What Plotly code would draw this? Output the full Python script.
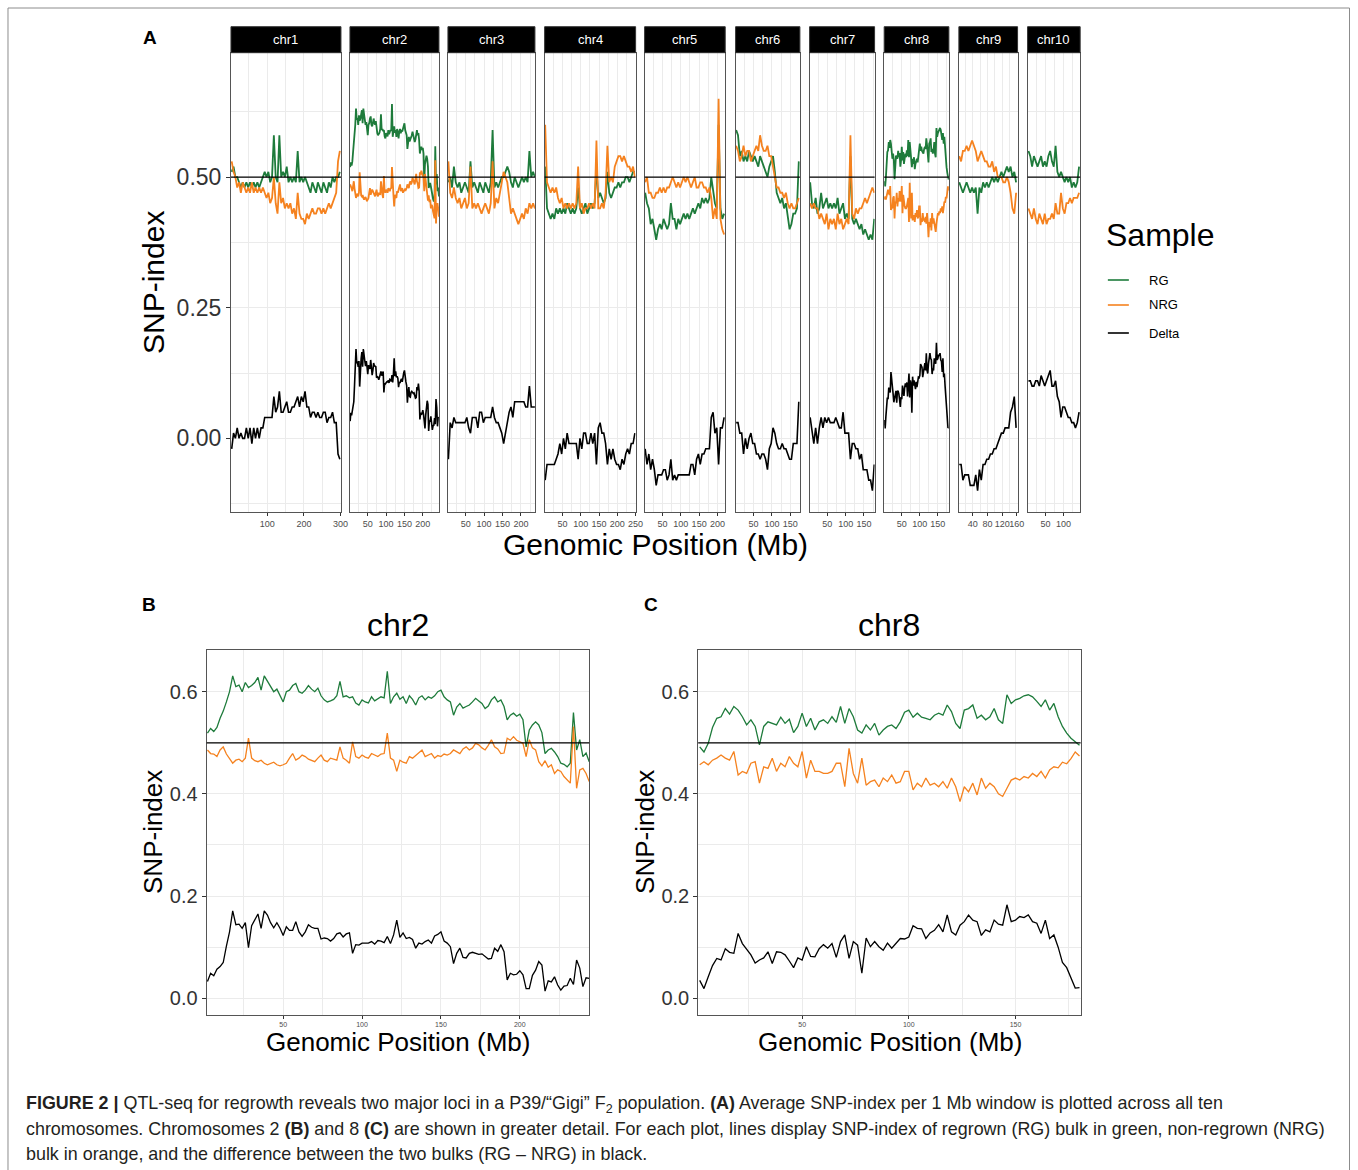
import plotly.graph_objects as go

W, H = 1358, 1170
KX = 1.0058  # the page is photographed slightly narrower than laid out; compensate horizontally


def px(x):
    return min(x * KX, W - 0.5) / W


def py(y):
    return 1 - y / H


# ---------------- data ----------------
CHROMS = ["chr1", "chr2", "chr3", "chr4", "chr5", "chr6", "chr7", "chr8", "chr9", "chr10"]
# window centre of the first point (Mb) and spacing of the windows (Mb)
WIN_START = [3, 2, 3, 3, 3, 3, 3, 2, 3, 3]
WIN_STEP = [5, 2, 5, 5, 5, 5, 5, 2, 5, 5]

chr1_rg = [.51, .52, .50, .50, .49, .48, .49, .48, .49, .48,
           .49, .48, .49, .48, .49, .48, .49, .50, .51, .50,
           .51, .49, .50, .58, .50, .49, .58, .50, .51, .50,
           .52, .49, .50, .49, .50, .49, .55, .49, .50, .49,
           .50, .49, .48, .47, .49, .48, .47, .49, .48, .47,
           .49, .48, .47, .49, .48, .50, .49, .50, .50, .51]
chr1_nrg = [.53, .51, .50, .48, .49, .47, .49, .48, .47, .48,
            .47, .49, .47, .48, .47, .48, .47, .48, .47, .46,
            .47, .45, .46, .50, .45, .43, .49, .45, .46, .44,
            .45, .44, .45, .43, .44, .42, .47, .43, .42, .42,
            .41, .43, .42, .43, .44, .43, .43, .44, .44, .43,
            .44, .43, .44, .45, .44, .45, .46, .47, .53, .55]

chr2_rg = [.519, .528, .522, .530, .548, .562, .580, .600, .631, .610,
           .613, .600, .618, .608, .612, .618, .628, .603, .631, .620,
           .608, .600, .605, .592, .580, .600, .603, .612, .616, .600,
           .597, .603, .612, .605, .600, .607, .592, .584, .580, .582,
           .585, .592, .620, .590, .592, .588, .590, .578, .574, .584,
           .580, .578, .590, .582, .586, .590, .588, .640, .577, .590,
           .597, .585, .590, .577, .592, .585, .574, .588, .592, .584,
           .590, .587, .592, .600, .603, .590, .584, .580, .554, .570,
           .577, .568, .571, .574, .580, .587, .582, .577, .567, .572,
           .584, .590, .580, .584, .571, .545, .554, .558, .552, .556,
           .545, .492, .525, .535, .541, .535, .520, .479, .486, .489,
           .482, .473, .460, .458, .453, .460, .559, .486, .506, .473,
           .480, .463]
chr2_nrg = [.486, .479, .478, .473, .486, .492, .478, .470, .460, .466,
            .468, .463, .470, .509, .470, .465, .463, .466, .460, .457,
            .460, .462, .457, .455, .457, .460, .470, .479, .466, .470,
            .476, .473, .468, .466, .463, .470, .476, .466, .463, .470,
            .468, .466, .492, .470, .466, .460, .502, .473, .470, .476,
            .472, .470, .479, .476, .473, .478, .479, .519, .470, .466,
            .444, .466, .462, .460, .473, .470, .476, .480, .486, .473,
            .476, .479, .470, .475, .473, .478, .476, .479, .486, .482,
            .479, .488, .492, .486, .490, .499, .496, .490, .486, .495,
            .506, .492, .488, .479, .480, .509, .505, .512, .505, .502,
            .499, .473, .506, .490, .486, .463, .455, .465, .452, .457,
            .440, .447, .444, .434, .428, .421, .532, .411, .447, .450,
            .440, .424]

chr3_rg = [.49, .50, .48, .52, .49, .48, .49, .47, .48, .49,
           .48, .47, .53, .48, .49, .48, .47, .49, .48, .47,
           .49, .48, .47, .49, .59, .48, .49, .48, .49, .50,
           .50, .51, .52, .51, .49, .48, .50, .49, .48, .49,
           .50, .49, .50, .49, .55, .50, .51, .50]
chr3_nrg = [.53, .47, .46, .48, .46, .45, .46, .44, .45, .46,
            .44, .45, .52, .44, .45, .44, .45, .44, .43, .44,
            .45, .44, .43, .45, .53, .44, .46, .45, .47, .49,
            .51, .50, .49, .46, .43, .44, .43, .42, .41, .42,
            .43, .42, .44, .43, .45, .44, .45, .44]

chr4_rg = [.52, .44, .43, .42, .43, .42, .44, .43, .44, .43,
           .44, .43, .45, .44, .43, .44, .43, .44, .48, .44,
           .43, .44, .45, .43, .44, .45, .44, .45, .52, .46,
           .47, .46, .45, .46, .51, .47, .46, .47, .48, .48,
           .49, .48, .49, .49, .50, .50, .49, .50, .51, .51]
chr4_nrg = [.60, .49, .48, .47, .48, .47, .48, .46, .45, .46,
            .44, .45, .44, .45, .44, .45, .44, .45, .52, .44,
            .45, .43, .44, .44, .45, .44, .45, .44, .57, .44,
            .44, .45, .44, .47, .56, .49, .50, .49, .52, .53,
            .54, .54, .53, .54, .53, .52, .52, .51, .52, .50]

chr5_rg = [.47, .45, .44, .41, .42, .40, .38, .40, .41, .40,
           .42, .41, .40, .41, .45, .42, .42, .40, .42, .41,
           .42, .43, .42, .43, .42, .43, .44, .43, .44, .45,
           .44, .46, .45, .46, .45, .46, .50, .47, .45, .44,
           .60, .44, .42, .43]
chr5_nrg = [.49, .50, .47, .47, .46, .46, .47, .47, .48, .47,
            .48, .47, .48, .48, .49, .50, .49, .48, .49, .48,
            .49, .50, .49, .50, .49, .48, .49, .50, .48, .48,
            .49, .49, .48, .48, .47, .48, .46, .42, .44, .42,
            .65, .42, .40, .39]

chr6_rg = [.59, .58, .54, .55, .53, .54, .53, .55, .54, .53,
           .54, .53, .52, .54, .53, .52, .51, .50, .52, .53,
           .54, .51, .47, .46, .45, .46, .44, .45, .42, .40,
           .41, .43, .43, .44, .53]
chr6_nrg = [.56, .55, .53, .54, .56, .54, .55, .55, .53, .54,
            .55, .56, .55, .58, .56, .55, .55, .56, .54, .54,
            .52, .50, .48, .48, .47, .47, .46, .47, .45, .44,
            .45, .44, .44, .45, .46]

chr7_rg = [.49, .45, .44, .46, .43, .44, .47, .44, .45, .46,
           .44, .45, .44, .45, .44, .46, .43, .44, .45, .42,
           .43, .42, .54, .42, .41, .42, .41, .40, .41, .39,
           .40, .39, .38, .39, .38, .42]
chr7_nrg = [.45, .44, .45, .44, .44, .42, .43, .42, .41, .43,
            .40, .42, .41, .42, .40, .43, .41, .42, .40, .41,
            .42, .41, .58, .43, .42, .44, .43, .44, .44, .45,
            .46, .45, .46, .47, .48, .47]

chr8_rg = [.492, .482, .499, .530, .548, .551, .567, .556, .571, .564,
           .551, .535, .545, .532, .496, .532, .541, .538, .535, .550,
           .538, .546, .520, .532, .558, .532, .548, .525, .541, .545,
           .538, .551, .540, .571, .538, .567, .551, .525, .519, .535,
           .525, .538, .515, .525, .532, .535, .528, .541, .560, .564,
           .550, .558, .550, .548, .545, .554, .558, .554, .574, .561,
           .538, .528, .564, .567, .574, .548, .554, .545, .551, .567,
           .545, .538, .594, .577, .584, .587, .592, .594, .590, .581,
           .571, .584, .564, .577, .551, .532, .519, .509, .502, .495]
chr8_nrg = [.457, .463, .457, .466, .470, .476, .470, .466, .483, .437,
            .444, .440, .460, .463, .421, .453, .450, .470, .444, .460,
            .453, .473, .460, .453, .483, .431, .466, .444, .444, .440,
            .440, .444, .460, .460, .414, .489, .440, .421, .470, .417,
            .424, .427, .414, .431, .424, .437, .421, .424, .444, .444,
            .408, .421, .414, .431, .417, .421, .414, .424, .411, .431,
            .414, .385, .414, .404, .421, .398, .431, .411, .421, .414,
            .400, .395, .411, .427, .431, .427, .434, .431, .440, .434,
            .444, .431, .447, .453, .451, .462, .459, .469, .482, .474]

chr9_rg = [.49, .48, .47, .48, .49, .48, .47, .48, .47, .48,
           .43, .48, .47, .49, .48, .49, .48, .49, .50, .49,
           .50, .49, .50, .51, .50, .51, .52, .51, .52, .50,
           .51, .49]
chr9_nrg = [.54, .53, .55, .55, .56, .55, .56, .57, .56, .55,
            .53, .54, .55, .54, .53, .53, .52, .52, .53, .51,
            .52, .50, .50, .50, .49, .49, .50, .49, .47, .44,
            .43, .47]

chr10_rg = [.55, .54, .52, .54, .53, .52, .53, .54, .52, .53,
            .52, .54, .55, .53, .52, .56, .51, .50, .51, .50,
            .49, .50, .49, .50, .48, .49, .48, .49, .52]
chr10_nrg = [.44, .43, .42, .44, .42, .41, .43, .42, .41, .43,
             .41, .42, .42, .43, .42, .45, .43, .43, .47, .44,
             .43, .45, .45, .46, .45, .46, .46, .46, .47]

RG = [chr1_rg, chr2_rg, chr3_rg, chr4_rg, chr5_rg, chr6_rg, chr7_rg, chr8_rg, chr9_rg, chr10_rg]
NRG = [chr1_nrg, chr2_nrg, chr3_nrg, chr4_nrg, chr5_nrg, chr6_nrg, chr7_nrg, chr8_nrg, chr9_nrg, chr10_nrg]

SAMPLES = ["RG", "NRG", "Delta"]
COLORS = {"RG": "#1E7B3B", "NRG": "#F5821F", "Delta": "#000000"}

# x-axis ticks per chromosome (Mb)
MAJOR_TICKS = [[100, 200, 300], [50, 100, 150, 200], [50, 100, 150, 200], [50, 100, 150, 200, 250],
               [50, 100, 150, 200], [50, 100, 150], [50, 100, 150], [50, 100, 150],
               [40, 80, 120, 160], [50, 100]]
MINOR_TICKS = [[50, 150, 250], [25, 75, 125, 175, 225], [25, 75, 125, 175, 225],
               [25, 75, 125, 175, 225], [25, 75, 125, 175], [25, 75, 125, 175],
               [25, 75, 125, 175], [25, 75, 125, 175], [20, 60, 100, 140], [25, 75, 125]]

# ---------------- layout geometry (pixels) ----------------
FACET_L = [231, 350, 448, 544.7, 644.7, 735.7, 809.7, 884.3, 959, 1027.7]
FACET_R = [341, 439, 535, 635.7, 725.3, 800, 874.7, 949, 1017.7, 1080.3]
XRANGE = [[1, 301], [1.5, 244], [1.8, 238], [1.5, 250], [1.5, 221], [1.5, 176],
          [1.5, 179], [1.3, 180.5], [2, 162], [0.5, 146]]
A_TOP, A_BOT = 52.7, 511.7
STRIP_TOP = 26.7
BC_TOP, BC_BOT = 650, 1015
B_L, B_R = 206.7, 589.3
C_L, C_R = 698.3, 1080.7

GRID = "#EBEBEB"
BORDER = "#555555"
FONT = "Liberation Sans, Arial, Helvetica, sans-serif"


def ax_name(kind, n):
    return kind if n == 1 else f"{kind}{n}"


def ref(kind, n):
    return kind[0] if n == 1 else f"{kind[0]}{n}"


fig = go.Figure()
layout = dict(
    width=W, height=H, margin=dict(l=0, r=0, t=0, b=0),
    paper_bgcolor="white", plot_bgcolor="white", showlegend=False,
    font=dict(family=FONT, color="#333333"),
)


def positions(i, n):
    return [WIN_START[i] + WIN_STEP[i] * k for k in range(n)]


def add_series(i, axis_n, widths):
    rg, nrg = RG[i], NRG[i]
    assert len(rg) == len(nrg)
    x = positions(i, len(rg))
    delta = [round(a - b, 4) for a, b in zip(rg, nrg)]
    vals = {"RG": rg, "NRG": nrg, "Delta": delta}
    for s, w in zip(SAMPLES, widths):
        fig.add_trace(go.Scatter(
            x=x, y=vals[s], mode="lines", name=s,
            line=dict(color=COLORS[s], width=w),
            xaxis=ref("x", axis_n), yaxis=ref("y", axis_n),
            hoverinfo="skip",
        ))


def xaxis_dict(dom, rng, major, minor, anchor, size):
    return dict(
        domain=dom, range=rng, anchor=anchor,
        tickmode="array", tickvals=major, ticktext=[str(v) for v in major], tickangle=0,
        showgrid=True, gridcolor=GRID, gridwidth=1.1,
        minor=dict(tickmode="array", tickvals=minor, showgrid=True, gridcolor=GRID, gridwidth=0.6),
        showline=True, mirror=True, linecolor=BORDER, linewidth=1,
        ticks="outside", ticklen=3, tickwidth=1, tickcolor="#333333",
        tickfont=dict(size=size, color="#4D4D4D", family=FONT),
        zeroline=False, fixedrange=True,
    )


def yaxis_dict(dom, rng, major, labels, minor, anchor, show, size):
    d = dict(
        domain=dom, range=rng, anchor=anchor,
        tickmode="array", tickvals=major, ticktext=labels,
        showgrid=True, gridcolor=GRID, gridwidth=1.1,
        minor=dict(tickmode="array", tickvals=minor, showgrid=True, gridcolor=GRID, gridwidth=0.6),
        showline=True, mirror=True, linecolor=BORDER, linewidth=1,
        zeroline=False, fixedrange=True,
    )
    if show:
        d.update(ticks="outside", ticklen=4, tickwidth=1, tickcolor="#333333",
                 showticklabels=True, tickfont=dict(size=size, color="#333333", family=FONT))
    else:
        d.update(ticks="", showticklabels=False)
    return d


shapes = []
annotations = []

# ---------------- panel A ----------------
A_YR = [-0.1404, 0.738]
for i, chrom in enumerate(CHROMS):
    n = i + 1
    add_series(i, n, (1.8, 1.8, 1.6))
    layout[ax_name("xaxis", n)] = xaxis_dict([px(FACET_L[i]), px(FACET_R[i])], XRANGE[i],
                                             MAJOR_TICKS[i], MINOR_TICKS[i], ref("y", n), 9)
    layout[ax_name("yaxis", n)] = yaxis_dict([py(A_BOT), py(A_TOP)], A_YR, [0, 0.25, 0.5],
                                             ["0.00", "0.25", "0.50"], [-0.125, 0.125, 0.375, 0.625],
                                             ref("x", n), n == 1, 23)
    # strip
    shapes.append(dict(type="rect", xref="paper", yref="paper",
                       x0=px(FACET_L[i]), x1=px(FACET_R[i]), y0=py(A_TOP), y1=py(STRIP_TOP),
                       fillcolor="#000000", line=dict(color="#333333", width=1), layer="above"))
    annotations.append(dict(text=chrom, xref="paper", yref="paper",
                            x=px((FACET_L[i] + FACET_R[i]) / 2), y=py((A_TOP + STRIP_TOP) / 2),
                            xanchor="center", yanchor="middle", showarrow=False,
                            font=dict(size=13, color="white", family=FONT)))

# ---------------- panels B and C ----------------
BC_YR = [-0.0327, 0.6816]
for n, i, (L, R), major, minor in [
    (11, 1, (B_L, B_R), [50, 100, 150, 200], [25, 75, 125, 175, 225]),
    (12, 7, (C_L, C_R), [50, 100, 150], [25, 75, 125, 175]),
]:
    add_series(i, n, (1.3, 1.3, 1.3))
    layout[ax_name("xaxis", n)] = xaxis_dict([px(L), px(R)], XRANGE[i], major, minor, ref("y", n), 7)
    layout[ax_name("yaxis", n)] = yaxis_dict([py(BC_BOT), py(BC_TOP)], BC_YR, [0, 0.2, 0.4, 0.6],
                                             ["0.0", "0.2", "0.4", "0.6"], [0.1, 0.3, 0.5],
                                             ref("x", n), True, 20)

# horizontal reference line at 0.5 in every panel
for n in range(1, 13):
    xr = "x domain" if n == 1 else f"x{n} domain"
    yr = "y" if n == 1 else f"y{n}"
    shapes.append(dict(type="line", xref=xr, yref=yr, x0=0, x1=1, y0=0.5, y1=0.5,
                       line=dict(color="#000000", width=1.2), layer="above"))


def text(t, x, y, size, xanchor="center", angle=0, color="#000000", bold=False):
    if bold:
        t = f"<b>{t}</b>"
    annotations.append(dict(text=t, xref="paper", yref="paper", x=px(x), y=py(y),
                            xanchor=xanchor, yanchor="middle", showarrow=False, textangle=angle,
                            font=dict(size=size, color=color, family=FONT)))


# panel labels and axis titles
text("A", 150, 38, 19, bold=True)
text("B", 149, 604, 19, bold=True)
text("C", 651, 604, 19, bold=True)
text("SNP-index", 153, 282, 30, angle=-90)
text("Genomic Position (Mb)", 656, 544, 30)
text("chr2", 398, 625, 32)
text("chr8", 889, 625, 32)
text("SNP-index", 153, 832, 26, angle=-90)
text("SNP-index", 645, 832, 26, angle=-90)
text("Genomic Position (Mb)", 398, 1042, 26)
text("Genomic Position (Mb)", 890, 1042, 26)

# legend
text("Sample", 1104, 235, 32, xanchor="left")
for s, yy in zip(SAMPLES, [280, 305, 333]):
    shapes.append(dict(type="line", xref="paper", yref="paper", x0=px(1108), x1=px(1129),
                       y0=py(yy), y1=py(yy), line=dict(color=COLORS[s], width=1.6)))
    text(s, 1147, yy, 13, xanchor="left")

# caption
CAPTION = [
    "<b>FIGURE 2 |</b> QTL-seq for regrowth reveals two major loci in a P39/\u201cGigi\u201d F<sub>2</sub> population. "
    "<b>(A)</b> Average SNP-index per 1 Mb window is plotted across all ten",
    "chromosomes. Chromosomes 2 <b>(B)</b> and 8 <b>(C)</b> are shown in greater detail. For each plot, lines "
    "display SNP-index of regrown (RG) bulk in green, non-regrown (NRG)",
    "bulk in orange, and the difference between the two bulks (RG \u2013 NRG) in black.",
]
for line, yy in zip(CAPTION, [1104, 1129, 1154]):
    text(line, 24, yy, 17.9, xanchor="left", color="#231F20")

# outer frame
shapes.append(dict(type="rect", xref="paper", yref="paper", x0=px(8), x1=px(1355),
                   y0=py(1180), y1=py(8), line=dict(color="#8C8C8C", width=1),
                   fillcolor="rgba(0,0,0,0)", layer="below"))

layout["shapes"] = shapes
layout["annotations"] = annotations
fig.update_layout(**layout)
fig.write_html("out.html")
